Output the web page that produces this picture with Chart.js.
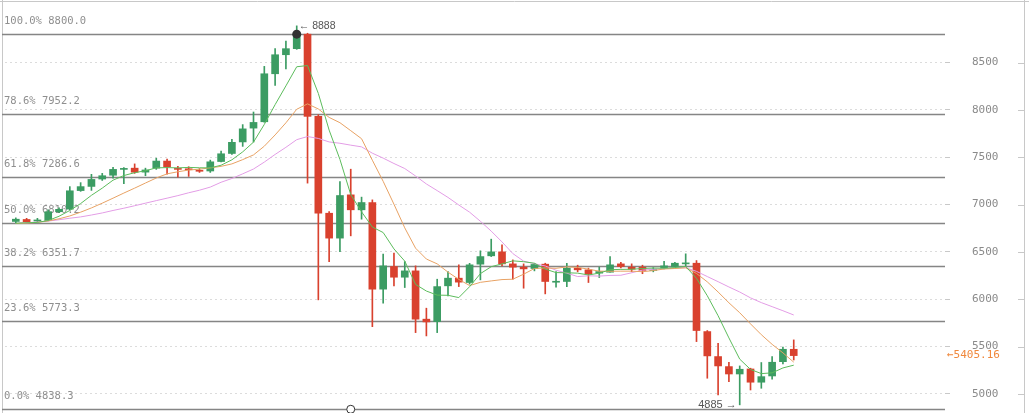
<!DOCTYPE html>
<html>
<head>
<meta charset="utf-8">
<script src="https://cdn.jsdelivr.net/npm/chart.js@4/dist/chart.umd.min.js"></script>
<style>
  html, body { margin: 0; padding: 0; background: #fff; }
  #wrap { width: 1029px; height: 413px; }
</style>
</head>
<body>
<div id="wrap"><canvas id="chart" width="1029" height="413"></canvas></div>
<script>
// candle values
const opens = [6822, 6843, 6826, 6832, 6925, 6952, 7148, 7192, 7270, 7310, 7372, 7385, 7343, 7385, 7460, 7380, 7376, 7360,
  7355, 7455, 7540, 7662, 7808, 7875, 8382, 8583, 8647, 8800, 7932, 6909, 6646, 7103, 6945, 7022, 6107, 6346, 6233, 6300,
  5790, 5764, 6142, 6223, 6177, 6371, 6459, 6501, 6374, 6339, 6325, 6371, 6180, 6188, 6329, 6311, 6276, 6286, 6374, 6339,
  6339, 6304, 6329, 6346, 6374, 6381, 5659, 5395, 5289, 5211, 5264, 5124, 5190, 5341, 5472];
const highs = [6860, 6855, 6855, 6945, 6965, 7190, 7232, 7320, 7330, 7395, 7390, 7430, 7385, 7490, 7480, 7405, 7400, 7380,
  7470, 7565, 7690, 7845, 7978, 8460, 8647, 8728, 8888, 8810, 7950, 6927, 7244, 7374, 7079, 7050, 6477, 6488, 6398, 6353,
  5906, 6212, 6293, 6364, 6380, 6512, 6635, 6575, 6416, 6374, 6380, 6381, 6293, 6381, 6360, 6329, 6340, 6451, 6390, 6374,
  6360, 6335, 6400, 6390, 6480, 6409, 5670, 5536, 5335, 5296, 5272, 5332, 5395, 5494, 5571];
const lows = [6805, 6810, 6812, 6828, 6915, 6945, 7140, 7150, 7255, 7280, 7220, 7330, 7305, 7372, 7322, 7290, 7298, 7340,
  7340, 7450, 7530, 7615, 7660, 7870, 8259, 8432, 8640, 7227, 5994, 6398, 6504, 6670, 6846, 5711, 5959, 6142, 6124, 5648,
  5613, 5648, 6036, 6134, 6160, 6205, 6451, 6353, 6212, 6117, 6300, 6057, 6128, 6134, 6290, 6177, 6230, 6286, 6330, 6290,
  6270, 6290, 6320, 6340, 6353, 5553, 5166, 4989, 5130, 4885, 5042, 5060, 5155, 5317, 5359];
const closes = [6846, 6820, 6838, 6925, 6950, 7146, 7190, 7266, 7305, 7372, 7380, 7342, 7366, 7460, 7400, 7372, 7368, 7352,
  7452, 7537, 7658, 7800, 7868, 8382, 8583, 8647, 8800, 7932, 6909, 6646, 7096, 6945, 7022, 6107, 6353, 6233, 6300, 5790,
  5761, 6134, 6223, 6181, 6364, 6451, 6501, 6374, 6339, 6321, 6368, 6188, 6188, 6329, 6311, 6265, 6293, 6364, 6346, 6318,
  6304, 6318, 6353, 6381, 6381, 5670, 5402, 5296, 5211, 5261, 5124, 5183, 5335, 5472, 5405.16];

// moving average lines
const ma5 = [6803, 6808, 6812, 6832, 6877, 6938, 7011, 7098, 7174, 7258, 7307, 7337, 7358, 7388, 7391, 7388, 7393, 7389,
  7388, 7416, 7473, 7557, 7660, 7847, 8056, 8254, 8456, 8469, 8174, 7787, 7477, 7106, 6924, 6763, 6705, 6532, 6403, 6157,
  6087, 6044, 6042, 6018, 6133, 6271, 6344, 6374, 6406, 6397, 6381, 6319, 6282, 6280, 6276, 6257, 6276, 6312, 6316, 6317,
  6325, 6330, 6328, 6335, 6347, 6221, 6037, 5826, 5592, 5368, 5259, 5215, 5223, 5275, 5304];
const ma10 = [6800, 6805, 6812, 6828, 6850, 6880, 6920, 6965, 7015, 7068, 7122, 7174, 7228, 7281, 7325, 7347, 7365, 7374,
  7388, 7404, 7430, 7475, 7525, 7617, 7736, 7864, 8007, 8064, 8010, 7921, 7865, 7781, 7696, 7469, 7246, 7004, 6754, 6540,
  6425, 6374, 6287, 6210, 6145, 6179, 6194, 6208, 6212, 6265, 6325, 6331, 6327, 6342, 6337, 6318, 6297, 6296, 6297, 6297,
  6291, 6303, 6320, 6325, 6332, 6273, 6184, 6077, 5963, 5858, 5740, 5626, 5524, 5434, 5336];
const ma20 = [6800, 6808, 6816, 6826, 6840, 6856, 6870, 6890, 6912, 6938, 6962, 6988, 7015, 7042, 7068, 7095, 7125, 7152,
  7185, 7236, 7276, 7325, 7376, 7449, 7530, 7605, 7686, 7719, 7699, 7662, 7648, 7628, 7610, 7543, 7491, 7434, 7381, 7302,
  7218, 7148, 7076, 6996, 6920, 6824, 6720, 6606, 6483, 6403, 6375, 6352, 6307, 6276, 6240, 6248, 6245, 6252, 6254, 6280,
  6308, 6317, 6323, 6333, 6334, 6295, 6240, 6186, 6130, 6077, 6015, 5965, 5922, 5879, 5834];

// fibonacci retracement levels
const fibRatios = ["100.0%", "78.6%", "61.8%", "50.0%", "38.2%", "23.6%", "0.0%"];
const fibLevels = [8800.0, 7952.2, 7286.6, 6810.2, 6351.7, 5773.3, 4838.3];
const yTicks = [5000, 5500, 6000, 6500, 7000, 7500, 8000, 8500];

// empty slots before and after the candles on the time axis
const lead = 1, tail = 14;
const labels = Array.from({ length: lead + closes.length + tail }, (_, i) => "d" + i);
const pad = (arr) => [...Array(lead).fill(null), ...arr, ...Array(tail).fill(null)];

const GREEN = "#3c9c63";
const RED = "#d9412e";
const candleColors = closes.map((c, i) => (c >= opens[i] ? GREEN : RED));
const bodies = opens.map((o, i) => [o, closes[i]]);
const wicks = lows.map((l, i) => [l, highs[i]]);

const monoFont = "'DejaVu Sans Mono', monospace";

const overlay = {
  id: "overlay",
  beforeDatasetsDraw(chart) {
    const { ctx, chartArea, scales: { y } } = chart;
    ctx.save();
    // frame
    ctx.strokeStyle = "#c8c8c8";
    ctx.lineWidth = 1;
    ctx.beginPath();
    ctx.moveTo(0, 1.5); ctx.lineTo(1029, 1.5);
    ctx.moveTo(2.5, 0); ctx.lineTo(2.5, 413);
    ctx.moveTo(1024.5, 0); ctx.lineTo(1024.5, 413);
    // small ticks on the outer frame
    yTicks.forEach((v) => {
      const py = Math.round(y.getPixelForValue(v)) + 0.5;
      ctx.moveTo(1018, py); ctx.lineTo(1024, py);
    });
    ctx.stroke();
    // fibonacci lines and their labels
    ctx.font = "10.5px " + monoFont;
    ctx.textAlign = "left";
    ctx.textBaseline = "middle";
    fibLevels.forEach((v, i) => {
      const py = Math.round(y.getPixelForValue(v)) + 0.5;
      ctx.strokeStyle = "#858585";
      ctx.lineWidth = 1.3;
      ctx.beginPath();
      ctx.moveTo(2, py);
      ctx.lineTo(chartArea.right, py);
      ctx.stroke();
      ctx.fillStyle = "#8f8f8f";
      ctx.fillText(fibRatios[i] + " " + v.toFixed(1), 4, py - 13);
    });
    ctx.restore();
  },
  afterDatasetsDraw(chart) {
    const { ctx, chartArea, scales: { x, y } } = chart;
    ctx.save();
    // top anchor
    const hiIdx = highs.indexOf(Math.max(...highs));
    const hx = x.getPixelForValue(hiIdx + lead);
    ctx.fillStyle = "#333";
    ctx.beginPath();
    ctx.arc(hx, y.getPixelForValue(fibLevels[0]), 4.5, 0, Math.PI * 2);
    ctx.fill();
    ctx.font = "10.5px 'Liberation Sans', Arial, sans-serif";
    ctx.fillStyle = "#555";
    ctx.textBaseline = "middle";
    ctx.textAlign = "left";
    ctx.fillText("\u2190 " + Math.max(...highs), hx + 2, y.getPixelForValue(Math.max(...highs)));
    // lowest low
    const loIdx = lows.indexOf(Math.min(...lows));
    const lx = x.getPixelForValue(loIdx + lead);
    ctx.font = "11px 'Liberation Sans', Arial, sans-serif";
    ctx.textAlign = "right";
    ctx.fillText(Math.min(...lows) + " \u2192", lx - 3, y.getPixelForValue(Math.min(...lows)));
    // bottom anchor
    const ax = x.getPixelForValue(32);
    ctx.fillStyle = "#fff";
    ctx.strokeStyle = "#333";
    ctx.lineWidth = 1;
    ctx.beginPath();
    ctx.arc(ax, y.getPixelForValue(fibLevels[6]), 4, 0, Math.PI * 2);
    ctx.fill();
    ctx.stroke();
    // last price
    const last = closes[closes.length - 1];
    ctx.font = "11px " + monoFont;
    ctx.fillStyle = "#f0883c";
    ctx.textAlign = "left";
    ctx.fillText("\u2190" + last.toFixed(2), chartArea.right + 2, y.getPixelForValue(last));
    ctx.restore();
  }
};

new Chart(document.getElementById("chart"), {
  type: "bar",
  data: {
    labels: labels,
    datasets: [
      { type: "line", label: "MA5", data: pad(ma5), borderColor: "#5cbc5c", borderWidth: 1, pointRadius: 0, order: 1 },
      { type: "line", label: "MA10", data: pad(ma10), borderColor: "#e8a264", borderWidth: 1, pointRadius: 0, order: 2 },
      { type: "line", label: "MA20", data: pad(ma20), borderColor: "#e39de6", borderWidth: 1, pointRadius: 0, order: 3 },
      { label: "body", data: pad(bodies), backgroundColor: pad(candleColors), barThickness: 7, minBarLength: 1, grouped: false, order: 4 },
      { label: "wick", data: pad(wicks), backgroundColor: pad(candleColors), barThickness: 1, grouped: false, order: 5 }
    ]
  },
  options: {
    responsive: false,
    animation: false,
    layout: { padding: { left: 5, top: 2, right: 0, bottom: 2 } },
    plugins: { legend: { display: false }, tooltip: { enabled: false } },
    scales: {
      x: { display: false, offset: false, grid: { display: false } },
      y: {
        position: "right",
        min: 4820,
        max: 9140,
        afterBuildTicks: (s) => { s.ticks = yTicks.map((v) => ({ value: v })); },
        afterFit: (s) => { s.width = 84; s.paddingTop = 0; s.paddingBottom = 0; },
        ticks: { padding: 22, color: "#8a8a8a", font: { family: monoFont, size: 11 }, callback: (v) => String(v) },
        grid: { color: "#dcdcdc", tickColor: "#c8c8c8", tickLength: 5, tickBorderDash: [] },
        border: { display: false, dash: [2, 3] }
      }
    }
  },
  plugins: [overlay]
});
</script>
</body>
</html>
